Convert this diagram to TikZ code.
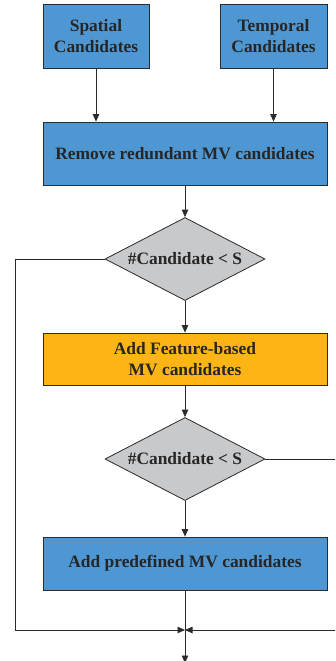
\documentclass[tikz,border=0pt]{standalone}
\usepackage{fontspec}
\setmainfont{Liberation Serif}
\usetikzlibrary{arrows.meta,shapes.geometric,shadows}
\definecolor{boxblue}{HTML}{4F97D2}
\definecolor{boxorange}{HTML}{FDB515}
\definecolor{dgray}{HTML}{C8C9CB}
\definecolor{edge}{HTML}{2B2B2B}
\tikzset{
  pbox/.style={draw=edge, line width=0.8pt, fill=boxblue, font=\fontsize{17.4}{21}\selectfont\bfseries,
    text=black!85, align=center, inner sep=0pt, drop shadow={shadow xshift=1pt, shadow yshift=-1pt, opacity=0.25}},
  dec/.style={draw=edge, line width=0.8pt, fill=dgray, diamond, aspect=1.93, inner sep=0pt,
    minimum width=160pt, minimum height=83pt, font=\fontsize{17.4}{20}\selectfont\bfseries, text=black!85},
  conn/.style={draw=edge, line width=0.8pt, -{Triangle[length=7.5pt,width=6.5pt]}},
  wire/.style={draw=edge, line width=0.8pt}
}
\begin{document}
\begin{tikzpicture}[x=1pt,y=-1pt]
\useasboundingbox (0,0) rectangle (335,661);
\clip (0,0) rectangle (335,661);
\node[pbox, minimum width=106pt, minimum height=64pt] (sp) at (96,36) {Spatial\\Candidates};
\node[pbox, minimum width=107pt, minimum height=64pt] (tp) at (273.5,36) {Temporal\\Candidates};
\node[pbox, minimum width=284pt, minimum height=63pt] (rm) at (185,153.5) {Remove redundant MV candidates};
\node[dec] (d1) at (185,259) {\#Candidate < S};
\node[pbox, fill=boxorange, minimum width=284pt, minimum height=52pt] (fb) at (185,359) {Add Feature-based\\MV candidates};
\node[dec] (d2) at (185,459) {\#Candidate < S};
\node[pbox, minimum width=284pt, minimum height=53pt] (pd) at (185,563.5) {Add predefined MV candidates};
\coordinate (j) at (185,630);
\coordinate (lc) at (15,630);
\coordinate (rc) at (340,630);
\coordinate (out) at (185,661);

\draw[conn] (sp.south) -- (sp.south |- rm.north);
\draw[conn] (tp.south) -- (tp.south |- rm.north);
\draw[conn] (rm.south) -- (d1.north);
\draw[conn] (d1.south) -- (fb.north);
\draw[conn] (fb.south) -- (d2.north);
\draw[conn] (d2.south) -- (pd.north);
\draw[wire] (pd.south) -- (j);
\draw[conn] (j) -- ([yshift=-2pt]out);
\draw[conn] (d1.west) -| (lc) -- (j);
\draw[conn] (d2.east) -| (rc) -- (j);
\end{tikzpicture}
\end{document}
